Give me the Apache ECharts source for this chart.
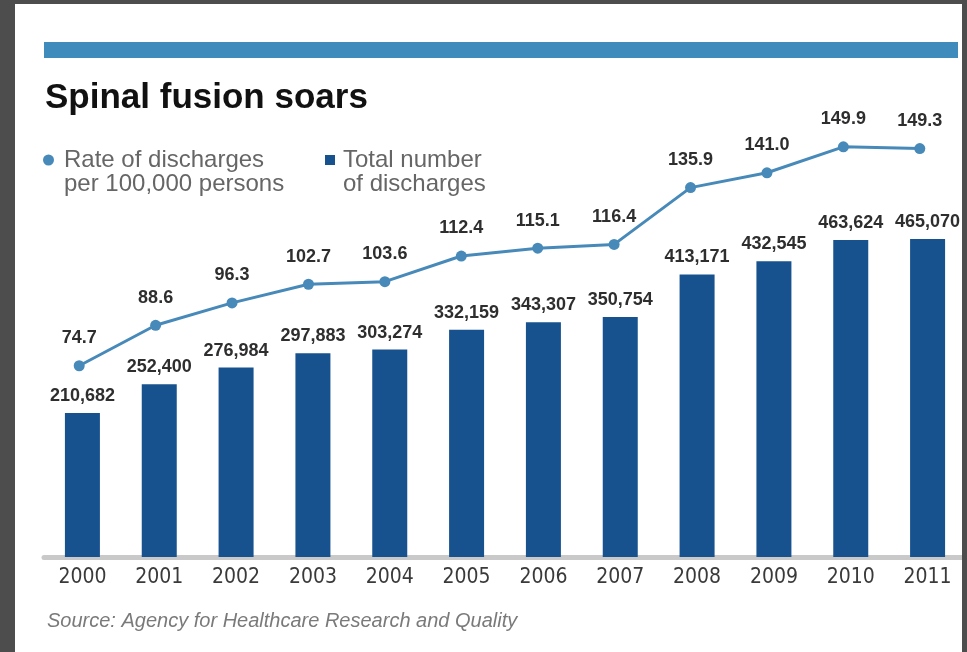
<!DOCTYPE html>
<html>
<head>
<meta charset="utf-8">
<title>Spinal fusion soars</title>
<script src="https://cdn.jsdelivr.net/npm/echarts@6/dist/echarts.min.js"></script>
<style>
  html, body { margin: 0; padding: 0; background: #fff; }
  #chart { width: 967px; height: 652px; }
</style>
</head>
<body>
<div id="chart"></div>
<script>
const years = ['2000', '2001', '2002', '2003', '2004', '2005', '2006', '2007', '2008', '2009', '2010', '2011']
const totalDischarges = [210682, 252400, 276984, 297883, 303274, 332159, 343307, 350754, 413171, 432545, 463624, 465070]
const ratePer100k = [74.7, 88.6, 96.3, 102.7, 103.6, 112.4, 115.1, 116.4, 135.9, 141.0, 149.9, 149.3]

const BAR_BLUE = '#17528f'
const LINE_BLUE = '#478ab9'
const FRAME = '#4d4d4d'
const SANS = '"Liberation Sans", Arial, sans-serif'

const chart = echarts.init(document.getElementById('chart'), null, { renderer: 'canvas' })

const labelFont = { fontFamily: SANS, fontWeight: 'bold', fontSize: 18, color: '#2e2e2e' }

// legend text gets an empty first line so the icon sits level with the first real line
const legendText = { fontFamily: SANS, fontSize: 24, lineHeight: 24, color: '#666' }

chart.setOption({
    animation: false,
    backgroundColor: '#fff',
    title: [
        {
            text: 'Spinal fusion soars',
            left: 45, top: 81, padding: 0,
            textStyle: { fontFamily: SANS, fontSize: 35, fontWeight: 'bold', color: '#111' }
        },
        {
            text: 'Source: Agency for Healthcare Research and Quality',
            left: 47, top: 611, padding: 0,
            textStyle: { fontFamily: SANS, fontSize: 20, fontStyle: 'italic', fontWeight: 'normal', color: '#7a7a7a' }
        }
    ],
    legend: [
        {
            data: [{ name: 'rate', icon: 'circle' }],
            left: 43, top: 124, padding: 0,
            itemWidth: 11, itemHeight: 11,
            formatter: () => '\nRate of discharges\nper 100,000 persons',
            textStyle: { ...legendText, padding: [0, 0, 0, 5] }
        },
        {
            data: [{ name: 'total', icon: 'rect' }],
            left: 325, top: 124, padding: 0,
            itemWidth: 10, itemHeight: 10,
            formatter: () => '\nTotal number\nof discharges',
            textStyle: { ...legendText, padding: [0, 0, 0, 3] }
        }
    ],
    grid: [
        { left: 44, width: 922, top: 215, bottom: 95 },
        { left: 41, width: 917, top: 100, bottom: 95 }
    ],
    xAxis: [
        {
            type: 'category', gridIndex: 0, data: years,
            axisLine: { lineStyle: { color: '#c9c9c9', width: 5 } },
            axisTick: { show: false },
            axisLabel: { margin: 10, fontFamily: '"Liberation Sans Narrow", "Arial Narrow", "DejaVu Sans Condensed", sans-serif', fontSize: 21, color: '#3a3a3a' }
        },
        { type: 'category', gridIndex: 1, data: years, show: false }
    ],
    yAxis: [
        { type: 'value', gridIndex: 0, min: 0, max: 500000, show: false, splitLine: { show: false } },
        { type: 'value', gridIndex: 1, min: 9, max: 166, show: false, splitLine: { show: false } }
    ],
    series: [
        {
            name: 'total', type: 'bar', xAxisIndex: 0, yAxisIndex: 0,
            data: totalDischarges, barWidth: 35,
            itemStyle: { color: BAR_BLUE },
            label: {
                show: true, position: 'top', distance: 8, ...labelFont,
                formatter: p => p.value.toLocaleString('en-US')
            },
            z: 3
        },
        {
            name: 'rate', type: 'line', xAxisIndex: 1, yAxisIndex: 1,
            data: ratePer100k,
            symbol: 'circle', symbolSize: 11,
            lineStyle: { color: LINE_BLUE, width: 3 },
            itemStyle: { color: LINE_BLUE },
            label: {
                show: true, position: 'top', distance: 13, ...labelFont,
                formatter: p => p.value.toFixed(1)
            },
            z: 4
        }
    ],
    graphic: [
        { type: 'rect', left: 44, top: 42, shape: { width: 914, height: 16 }, style: { fill: '#3f8bbb' }, z: 10 },
        { type: 'rect', left: 0, top: 0, shape: { width: 15, height: 652 }, style: { fill: FRAME }, z: 20 },
        { type: 'rect', left: 0, top: 0, shape: { width: 967, height: 4 }, style: { fill: FRAME }, z: 20 },
        { type: 'rect', left: 962, top: 0, shape: { width: 5, height: 652 }, style: { fill: FRAME }, z: 20 }
    ]
})
</script>
</body>
</html>
